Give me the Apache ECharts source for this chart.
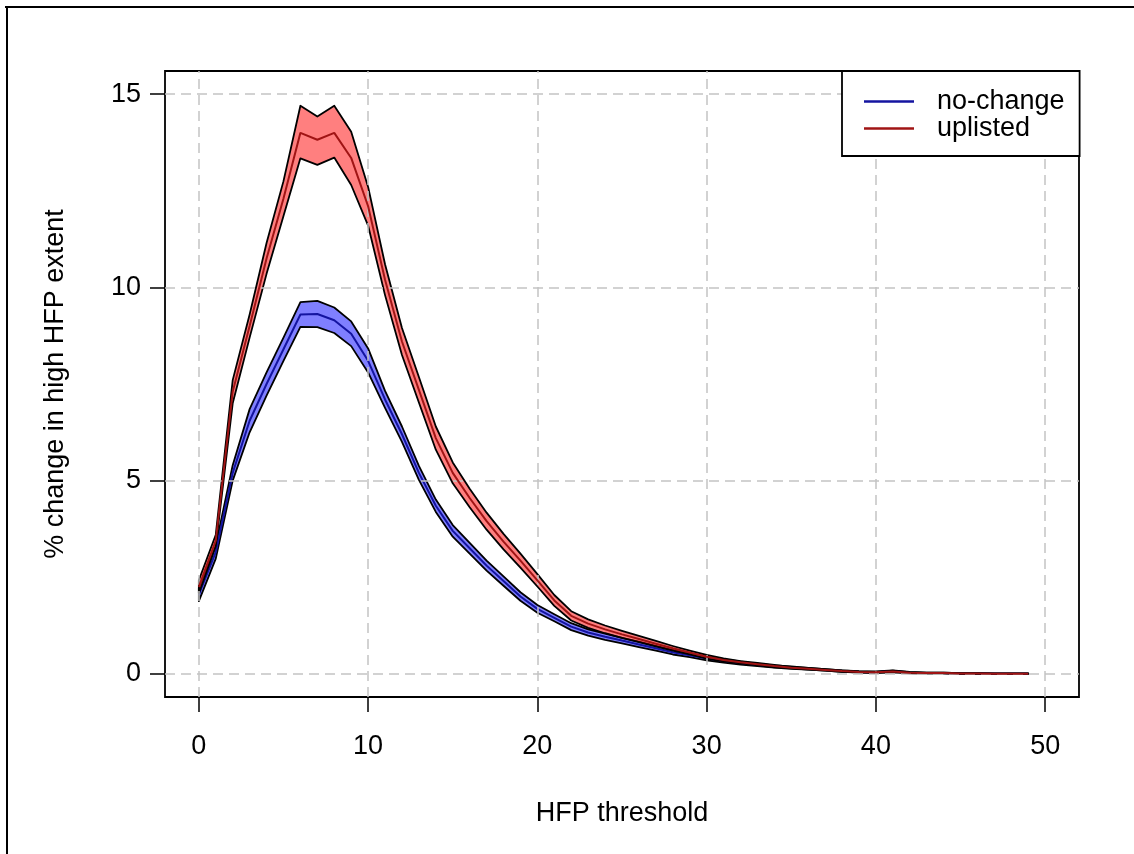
<!DOCTYPE html>
<html>
<head>
<meta charset="utf-8">
<script src="https://cdn.jsdelivr.net/npm/echarts@6/dist/echarts.min.js"></script>
<style>
  html, body { margin: 0; padding: 0; background: #fff; }
  #chart { width: 1134px; height: 854px; }
</style>
</head>
<body>
<div id="chart"></div>
<script>
// ---- data ----
const thresholds = [0,1,2,3,4,5,6,7,8,9,10,11,12,13,14,15,16,17,18,19,20,21,22,23,24,25,26,27,28,29,30,31,32,33,34,35,36,37,38,39,40,41,42,43,44,45,46,47,48,49];

const noChangeMean  = [2.05,3.15,5.2,6.55,7.5,8.4,9.3,9.31,9.15,8.8,8.1,7.1,6.2,5.2,4.35,3.7,3.25,2.8,2.4,2.0,1.68,1.45,1.22,1.07,0.96,0.86,0.76,0.66,0.56,0.48,0.4,0.33,0.28,0.23,0.19,0.16,0.13,0.1,0.07,0.05,0.04,0.07,0.03,0.02,0.02,0.01,0.01,0.0,0.0,0.0];
const noChangeUpper = [2.22,3.32,5.4,6.85,7.8,8.7,9.62,9.65,9.48,9.12,8.42,7.32,6.4,5.38,4.51,3.85,3.39,2.93,2.52,2.11,1.78,1.54,1.31,1.15,1.04,0.93,0.83,0.72,0.62,0.53,0.45,0.37,0.32,0.26,0.22,0.19,0.15,0.12,0.09,0.07,0.06,0.09,0.05,0.03,0.03,0.02,0.02,0.01,0.01,0.01];
const noChangeLower = [1.88,2.98,5.0,6.25,7.2,8.1,8.98,8.97,8.82,8.48,7.8,6.88,6.0,5.02,4.19,3.55,3.11,2.67,2.28,1.89,1.58,1.36,1.13,0.99,0.88,0.79,0.69,0.6,0.5,0.43,0.35,0.29,0.24,0.2,0.16,0.13,0.11,0.08,0.05,0.03,0.02,0.05,0.01,0.01,0.01,0.0,0.0,0.0,0.0,0.0];

const uplistedMean  = [2.25,3.45,7.3,9.0,10.75,12.3,14.0,13.82,14.0,13.35,12.1,10.2,8.6,7.35,6.1,5.2,4.55,3.95,3.42,2.93,2.42,1.9,1.5,1.3,1.15,1.02,0.9,0.78,0.66,0.55,0.44,0.36,0.3,0.25,0.2,0.16,0.13,0.1,0.07,0.05,0.04,0.06,0.03,0.02,0.02,0.01,0.01,0.0,0.0,0.0];
const uplistedUpper = [2.42,3.6,7.6,9.3,11.15,12.75,14.7,14.42,14.7,14.03,12.6,10.6,8.95,7.68,6.4,5.47,4.79,4.17,3.62,3.11,2.58,2.04,1.62,1.41,1.25,1.11,0.98,0.85,0.72,0.6,0.49,0.4,0.33,0.28,0.23,0.18,0.15,0.12,0.09,0.06,0.05,0.08,0.04,0.03,0.03,0.02,0.02,0.01,0.01,0.01];
const uplistedLower = [2.08,3.3,7.0,8.7,10.35,11.85,13.34,13.17,13.36,12.65,11.6,9.8,8.25,7.02,5.8,4.93,4.31,3.73,3.22,2.75,2.26,1.76,1.38,1.19,1.05,0.93,0.82,0.71,0.6,0.5,0.39,0.32,0.27,0.22,0.17,0.14,0.11,0.08,0.05,0.04,0.03,0.04,0.02,0.01,0.01,0.0,0.0,0.0,0.0,0.0];

const xTicks = [0,10,20,30,40,50];
const yTicks = [0,5,10,15];
const seriesNames = ['no-change','uplisted'];
const xTitle = 'HFP threshold';
const yTitle = '% change in high HFP extent';

// ---- chart ----
const FONT = '"Liberation Sans", Arial, Helvetica, sans-serif';
const FS = 27;
const chart = echarts.init(document.getElementById('chart'), null, {renderer: 'canvas'});

function pairs(ys) { return thresholds.map((x, i) => [x, ys[i]]); }

function bandRenderer(upper, lower, fill) {
  return function (params, api) {
    if (params.dataIndex !== 0) return null;
    const pts = [];
    for (let i = 0; i < thresholds.length; i++) pts.push(api.coord([thresholds[i], upper[i]]));
    for (let i = thresholds.length - 1; i >= 0; i--) pts.push(api.coord([thresholds[i], lower[i]]));
    return {
      type: 'polygon',
      shape: { points: pts },
      style: { fill: fill, stroke: '#000', lineWidth: 1.8, lineJoin: 'round' }
    };
  };
}

const gridStyle = { color: '#c4c4c4', width: 1.5, type: [10, 6] };
const markLineData = xTicks.map(v => ({ xAxis: v })).concat(yTicks.map(v => ({ yAxis: v })));

const option = {
  backgroundColor: '#fff',
  animation: false,
  textStyle: { fontFamily: FONT },
  grid: {
    left: 165, top: 71, width: 914, height: 626,
    show: true, borderColor: '#000', borderWidth: 1.8, backgroundColor: 'transparent'
  },
  xAxis: {
    type: 'value', min: -2, max: 52, position: 'bottom',
    axisLine: { show: false, onZero: false },
    splitLine: { show: false },
    axisTick: { show: true, inside: false, length: 15, lineStyle: { color: '#000', width: 1.5 }, customValues: xTicks },
    axisLabel: { customValues: xTicks, fontSize: FS, color: '#000', margin: 36, fontFamily: FONT },
    name: xTitle, nameLocation: 'middle', nameGap: 103,
    nameTextStyle: { fontSize: FS, color: '#000', fontFamily: FONT }
  },
  yAxis: {
    type: 'value', min: -0.6, max: 15.6, position: 'left',
    axisLine: { show: false, onZero: false },
    splitLine: { show: false },
    axisTick: { show: true, inside: false, length: 15, lineStyle: { color: '#000', width: 1.5 }, customValues: yTicks },
    axisLabel: { customValues: yTicks, fontSize: FS, color: '#000', margin: 24, fontFamily: FONT },
    name: yTitle, nameLocation: 'middle', nameGap: 96, nameRotate: 90,
    nameTextStyle: { fontSize: FS, color: '#000', fontFamily: FONT }
  },
  legend: {
    data: seriesNames,
    orient: 'vertical',
    left: 842, top: 71,
    backgroundColor: '#fff',
    borderColor: '#000', borderWidth: 1.8, borderRadius: 0,
    padding: [17, 15, 14, 22],
    itemGap: 0,
    itemWidth: 50, itemHeight: 2.5,
    icon: 'rect',
    textStyle: { fontSize: FS, color: '#000', lineHeight: 27, padding: [0, 0, 0, 18], fontFamily: FONT },
    z: 20
  },
  graphic: [
    { type: 'line', shape: { x1: 5, y1: 7, x2: 1134, y2: 7 }, style: { stroke: '#000', lineWidth: 2 } },
    { type: 'line', shape: { x1: 7, y1: 7, x2: 7, y2: 854 }, style: { stroke: '#000', lineWidth: 2 } }
  ],
  series: [
    {
      name: 'grid', type: 'line', data: [], silent: true, z: 1,
      markLine: { silent: true, symbol: 'none', label: { show: false }, lineStyle: gridStyle, data: markLineData, animation: false }
    },
    {
      name: 'no-change band', type: 'custom', z: 2, clip: true,
      data: [[0, 0]], encode: { x: 0, y: 1 },
      renderItem: bandRenderer(noChangeUpper, noChangeLower, 'rgba(0,0,255,0.5)')
    },
    {
      name: 'no-change', type: 'line', z: 3, data: pairs(noChangeMean),
      showSymbol: false, symbol: 'none', color: '#1414A0',
      lineStyle: { color: '#1414A0', width: 2 }
    },
    {
      name: 'uplisted band', type: 'custom', z: 4, clip: true,
      data: [[0, 0]], encode: { x: 0, y: 1 },
      renderItem: bandRenderer(uplistedUpper, uplistedLower, 'rgba(255,0,0,0.5)')
    },
    {
      name: 'uplisted', type: 'line', z: 5, data: pairs(uplistedMean),
      showSymbol: false, symbol: 'none', color: '#A01414',
      lineStyle: { color: '#A01414', width: 2 }
    }
  ]
};
chart.setOption(option);
</script>
</body>
</html>
